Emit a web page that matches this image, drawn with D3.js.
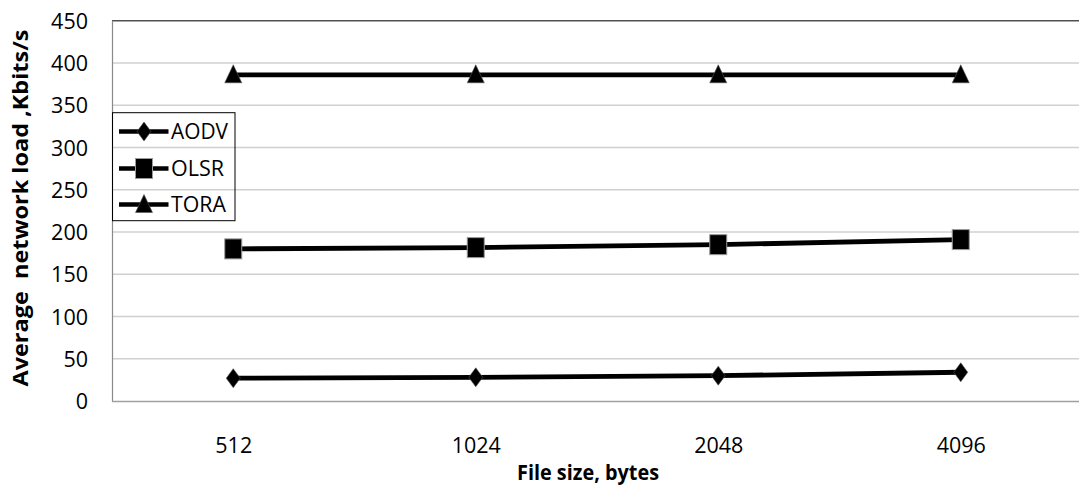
<!DOCTYPE html>
<html>
<head>
<meta charset="utf-8">
<script src="https://cdn.jsdelivr.net/npm/d3@7"></script>
<style>
  html, body { margin: 0; padding: 0; background: #fff; }
  svg { display: block; }
  text { font-family: "Open Sans", "Noto Sans", sans-serif; fill: #000; }
</style>
</head>
<body>
<svg id="chart" width="1079" height="492"></svg>
<script>
// Chart data
const fileSizes = ["512", "1024", "2048", "4096"];
const seriesNames = ["AODV", "OLSR", "TORA"];
const aodv = [27, 28, 30, 34];
const olsr = [180, 181.5, 185, 191];
const tora = [386, 386, 386, 386];
const yTicks = [0, 50, 100, 150, 200, 250, 300, 350, 400, 450];
const seriesValues = [aodv, olsr, tora];
const markerShapes = ["diamond", "square", "triangle"];

const svg = d3.select("#chart");
const plot = { left: 112, right: 1082, top: 20.7, bottom: 401 };

const x = d3.scalePoint().domain(fileSizes).range([plot.left, plot.right]).padding(0.5);
const y = d3.scaleLinear().domain([0, 450]).range([plot.bottom, plot.top]);

// Horizontal gridlines
svg.append("g").selectAll("line")
  .data(yTicks.filter(v => v > 0 && v < 450))
  .join("line")
  .attr("x1", plot.left).attr("x2", 1079)
  .attr("y1", d => y(d)).attr("y2", d => y(d))
  .attr("stroke", "#d0d0d0").attr("stroke-width", 1.5);

// Top border of plot area
svg.append("line")
  .attr("x1", plot.left).attr("x2", 1079)
  .attr("y1", y(450)).attr("y2", y(450))
  .attr("stroke", "#505050").attr("stroke-width", 1.5);

// Y axis
const yAxis = svg.append("g")
  .attr("transform", `translate(${plot.left},0)`)
  .call(d3.axisLeft(y).tickValues(yTicks).tickSize(0).tickPadding(24));
yAxis.select(".domain").attr("stroke", "#8a8a8a").attr("stroke-width", 1.2);
yAxis.selectAll("text")
  .style("font-family", "'Open Sans', sans-serif")
  .style("font-size", "21.5px")
  .attr("fill", "#000")
  .attr("dy", "0.36em");

// X axis
const xAxis = svg.append("g")
  .attr("transform", `translate(0,${plot.bottom})`)
  .call(d3.axisBottom(x).tickSize(0).tickPadding(37));
xAxis.select(".domain")
  .attr("d", `M${plot.left},0.5H1079`)
  .attr("stroke", "#a0a0a0").attr("stroke-width", 1.5);
xAxis.selectAll("text")
  .style("font-family", "'Open Sans', sans-serif")
  .style("font-size", "21.5px")
  .attr("fill", "#000");

// Axis titles
svg.append("text")
  .attr("x", 588).attr("y", 480)
  .attr("text-anchor", "middle")
  .attr("font-weight", "bold")
  .attr("font-size", 22)
  .attr("textLength", 142).attr("lengthAdjust", "spacingAndGlyphs")
  .text("File size, bytes");

svg.append("text")
  .attr("transform", "translate(27.5,208) rotate(-90)")
  .attr("text-anchor", "middle")
  .attr("font-weight", "bold")
  .attr("font-size", 21)
  .attr("textLength", 357).attr("lengthAdjust", "spacingAndGlyphs")
  .style("white-space", "pre")
  .text("Average  network load ,Kbits/s");

// Marker drawing
function drawMarker(g, shape, cx, cy) {
  if (shape === "diamond") {
    g.append("path")
      .attr("d", `M${cx},${cy - 9.5}L${cx + 7},${cy}L${cx},${cy + 9.5}L${cx - 7},${cy}Z`)
      .attr("fill", "#000").attr("stroke", "#555").attr("stroke-width", 0.6);
  } else if (shape === "square") {
    g.append("rect")
      .attr("x", cx - 8.5).attr("y", cy - 10).attr("width", 17).attr("height", 20)
      .attr("fill", "#000").attr("stroke", "#9a9a9a").attr("stroke-width", 1);
  } else {
    g.append("path")
      .attr("d", `M${cx},${cy - 10}L${cx + 8.5},${cy + 8}L${cx - 8.5},${cy + 8}Z`)
      .attr("fill", "#000").attr("stroke", "#555").attr("stroke-width", 0.6);
  }
}

// Series lines and markers
const line = d3.line().x((d, i) => x(fileSizes[i])).y(d => y(d));
seriesValues.forEach((vals, s) => {
  const g = svg.append("g");
  g.append("path")
    .attr("d", line(vals))
    .attr("fill", "none").attr("stroke", "#000").attr("stroke-width", 4.8);
  vals.forEach((v, i) => drawMarker(g, markerShapes[s], x(fileSizes[i]), y(v)));
});

// Legend (transparent box, gridlines show through)
const legend = svg.append("g");
legend.append("rect")
  .attr("x", 112.5).attr("y", 112.7).attr("width", 122.5).attr("height", 108)
  .attr("fill", "none").attr("stroke", "#000").attr("stroke-width", 1);
const legendY = [131.5, 168.5, 204.5];
const legendWidths = [57, 53, 55];
seriesNames.forEach((name, s) => {
  const ly = legendY[s];
  legend.append("line")
    .attr("x1", 119).attr("x2", 168.5).attr("y1", ly).attr("y2", ly)
    .attr("stroke", "#000").attr("stroke-width", 4.5);
  drawMarker(legend, markerShapes[s], 144, ly);
  legend.append("text")
    .attr("x", 171).attr("y", ly + 7.3)
    .attr("font-size", 22)
    .attr("textLength", legendWidths[s]).attr("lengthAdjust", "spacingAndGlyphs")
    .text(name);
});
</script>
</body>
</html>
